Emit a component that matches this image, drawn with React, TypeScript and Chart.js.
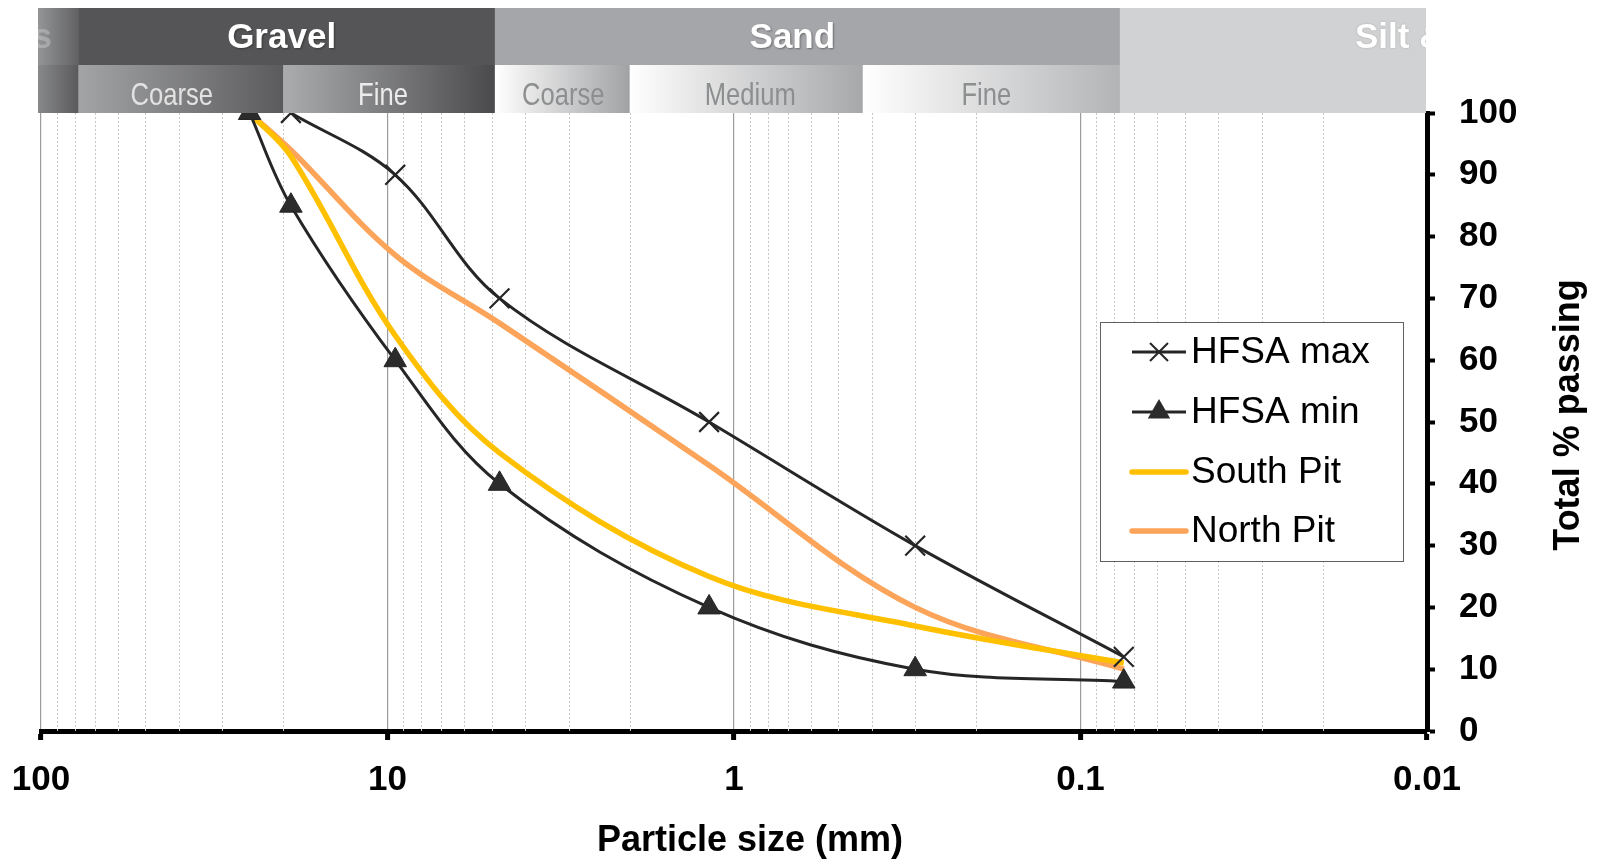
import React, { useEffect, useRef } from "react";
import { Chart, registerables } from "chart.js";

Chart.register(...registerables);

const FONT = "'Liberation Sans', Arial, Helvetica, sans-serif";

// Sieve sizes (mm) at which the gradings are plotted
const sieveSizes = [25, 19, 9.5, 4.75, 1.18, 0.3, 0.075];
const hfsaMax = [null, 100, 90, 70, 50, 30, 12];
const hfsaMin = [100, 85, 60, 40, 20, 10, 8];
const southPit = [100, 93, 64, 45, 25, 17, 11];
const northPit = [100, 94, 77, 66, 43, 20, 10];

const seriesNames = ["HFSA max", "HFSA min", "South Pit", "North Pit"];

const xTickValues = [0.01, 0.1, 1, 10, 100];
const xTickLabels = ["0.01", "0.1", "1", "10", "100"];
const yTickValues = [0, 10, 20, 30, 40, 50, 60, 70, 80, 90, 100];
const yTickLabels = ["0", "10", "20", "30", "40", "50", "60", "70", "80", "90", "100"];

// Soil classification band (boundaries in mm)
const classTopNames = ["Cobbles", "Gravel", "Sand", "Silt & clay"];
const classTopEdges = [null, 78, 4.9, 0.077, null];
const classSubNames = ["", "Coarse", "Fine", "Coarse", "Medium", "Fine", ""];
const classSubEdges = [null, 78, 20, 4.9, 2, 0.425, 0.077, null];

const xTitle = "Particle size (mm)";
const yTitle = "Total % passing";

const toPoints = (vals: (number | null)[]) =>
  sieveSizes
    .map((s, i) => ({ x: s, y: vals[i] }))
    .filter((p) => p.y !== null) as { x: number; y: number }[];

const topFills = [
  ["#949597", "#626264"],
  ["#555557", "#555557"],
  ["#a5a6a9", "#a5a6a9"],
  ["#d1d2d4", "#d1d2d4"],
];
const subFills = [
  ["#88898b", "#5a5a5c"],
  ["#a3a4a6", "#5b5b5d"],
  ["#abacae", "#4a4a4c"],
  ["#ffffff", "#a1a2a4"],
  ["#ffffff", "#a7a8aa"],
  ["#ffffff", "#b3b4b6"],
  ["#d1d2d4", "#d1d2d4"],
];
const subTextColors = ["", "#e2e2e2", "#ececec", "#8d8e90", "#8d8e90", "#8d8e90", ""];

const minorGridPlugin = {
  id: "minorGrid",
  beforeDatasetsDraw(chart: any) {
    const { ctx, chartArea, scales } = chart;
    const x = scales.x;
    ctx.save();
    ctx.strokeStyle = "#c8c8c8";
    ctx.lineWidth = 1;
    ctx.setLineDash([2, 2]);
    for (let d = 0; d < xTickValues.length - 1; d++) {
      const base = xTickValues[d];
      for (let m = 2; m <= 9; m++) {
        const px = Math.round(x.getPixelForValue(base * m)) + 0.5;
        ctx.beginPath();
        ctx.moveTo(px, chartArea.top);
        ctx.lineTo(px, chartArea.bottom);
        ctx.stroke();
      }
    }
    ctx.restore();
  },
};

const headerPlugin = {
  id: "classHeader",
  afterDatasetsDraw(chart: any) {
    const { ctx, chartArea, scales } = chart;
    const x = scales.x;
    const L = chartArea.left - 3;
    const R = chartArea.right - 1;
    const top = 8;
    const mid = 65;
    const bot = chartArea.top;
    const edge = (edges: (number | null)[], i: number) => {
      const v = edges[i];
      if (v === null) return i === 0 ? L : R;
      return x.getPixelForValue(v);
    };
    ctx.save();
    ctx.beginPath();
    ctx.rect(L, top, R - L, bot - top);
    ctx.clip();

    for (let i = 0; i < classTopNames.length; i++) {
      const a = edge(classTopEdges, i);
      const b = edge(classTopEdges, i + 1);
      const g = ctx.createLinearGradient(a, 0, b, 0);
      g.addColorStop(0, topFills[i][0]);
      g.addColorStop(1, topFills[i][1]);
      ctx.fillStyle = g;
      ctx.fillRect(a, top, b - a + 0.5, mid - top);
    }
    for (let i = 0; i < classSubNames.length; i++) {
      const a = edge(classSubEdges, i);
      const b = edge(classSubEdges, i + 1);
      const g = ctx.createLinearGradient(a, 0, b, 0);
      g.addColorStop(0, subFills[i][0]);
      g.addColorStop(1, subFills[i][1]);
      ctx.fillStyle = g;
      ctx.fillRect(a, mid, b - a + 0.5, bot - mid);
    }

    ctx.font = `bold 35px ${FONT}`;
    ctx.textBaseline = "middle";
    for (let i = 0; i < classTopNames.length; i++) {
      const a = edge(classTopEdges, i);
      const b = edge(classTopEdges, i + 1);
      ctx.save();
      if (i === 0) {
        ctx.textAlign = "right";
        ctx.fillStyle = "rgba(255,255,255,0.25)";
        ctx.fillText(classTopNames[i], a + 14, 38);
      } else if (i === classTopNames.length - 1) {
        ctx.textAlign = "left";
        ctx.fillStyle = "#ffffff";
        ctx.shadowColor = "rgba(0,0,0,0.2)";
        ctx.shadowBlur = 2;
        ctx.fillText(classTopNames[i], R - 71, 38);
      } else {
        ctx.textAlign = "center";
        ctx.fillStyle = "#ffffff";
        ctx.shadowColor = "rgba(0,0,0,0.35)";
        ctx.shadowBlur = 2;
        ctx.shadowOffsetX = 1;
        ctx.shadowOffsetY = 1;
        const dx = i === 1 ? -5 : -15;
        ctx.fillText(classTopNames[i], (a + b) / 2 + dx, 38);
      }
      ctx.restore();
    }

    const subDx = [0, -9, -6, 1, 4, -5, 0];
    for (let i = 0; i < classSubNames.length; i++) {
      if (!classSubNames[i]) continue;
      const a = edge(classSubEdges, i);
      const b = edge(classSubEdges, i + 1);
      ctx.save();
      ctx.translate((a + b) / 2 + subDx[i], 96);
      ctx.scale(0.8, 1);
      ctx.font = `32px ${FONT}`;
      ctx.textAlign = "center";
      ctx.textBaseline = "middle";
      ctx.fillStyle = subTextColors[i];
      ctx.fillText(classSubNames[i], 0, 0);
      ctx.restore();
    }
    ctx.restore();
  },
};

const legendPlugin = {
  id: "insideLegend",
  afterDraw(chart: any) {
    const { ctx } = chart;
    const bx = 1100, by = 322, bw = 303, bh = 239;
    ctx.save();
    ctx.fillStyle = "#ffffff";
    ctx.fillRect(bx, by, bw, bh);
    ctx.strokeStyle = "#606060";
    ctx.lineWidth = 1;
    ctx.strokeRect(bx + 0.5, by + 0.5, bw, bh);
    const rows = [352, 412, 472, 531];
    chart.data.datasets.forEach((ds: any, i: number) => {
      const cy = rows[i];
      const x1 = 1132, x2 = 1186, cx = (x1 + x2) / 2;
      ctx.strokeStyle = ds.borderColor;
      ctx.lineWidth = ds.borderWidth;
      ctx.lineCap = i >= 2 ? "round" : "butt";
      ctx.beginPath();
      ctx.moveTo(x1, cy);
      ctx.lineTo(x2, cy);
      ctx.stroke();
      ctx.lineCap = "butt";
      if (ds.pointStyle === "crossRot") {
        const r = 9;
        ctx.lineWidth = 2;
        ctx.beginPath();
        ctx.moveTo(cx - r, cy - r);
        ctx.lineTo(cx + r, cy + r);
        ctx.moveTo(cx - r, cy + r);
        ctx.lineTo(cx + r, cy - r);
        ctx.stroke();
      } else if (ds.pointStyle === "triangle") {
        const r = 13;
        ctx.fillStyle = ds.pointBackgroundColor;
        ctx.beginPath();
        ctx.moveTo(cx, cy - r);
        ctx.lineTo(cx + r * 0.866, cy + r / 2);
        ctx.lineTo(cx - r * 0.866, cy + r / 2);
        ctx.closePath();
        ctx.fill();
      }
      ctx.fillStyle = "#000000";
      ctx.font = `37px ${FONT}`;
      ctx.textAlign = "left";
      ctx.textBaseline = "middle";
      ctx.fillText(ds.label, 1191, cy + 1);
    });
    ctx.restore();
  },
};

const titlesPlugin = {
  id: "axisTitles",
  afterDraw(chart: any) {
    const { ctx } = chart;
    ctx.save();
    ctx.fillStyle = "#000000";
    ctx.font = `bold 36px ${FONT}`;
    ctx.textAlign = "center";
    ctx.textBaseline = "middle";
    ctx.fillText(xTitle, 750, 841);
    ctx.translate(1569, 415);
    ctx.rotate(-Math.PI / 2);
    ctx.fillText(yTitle, 0, 0);
    ctx.restore();
  },
};

export default function App() {
  const ref = useRef<HTMLCanvasElement | null>(null);

  useEffect(() => {
    if (!ref.current) return;
    const black = "#262626";
    const chart = new Chart(ref.current, {
      type: "line",
      data: {
        datasets: [
          {
            label: seriesNames[0],
            data: toPoints(hfsaMax),
            borderColor: black,
            borderWidth: 3,
            pointStyle: "crossRot",
            pointRadius: 14,
            pointBorderWidth: 2.2,
            pointBorderColor: black,
            pointBackgroundColor: black,
            tension: 0.35,
            fill: false,
          },
          {
            label: seriesNames[1],
            data: toPoints(hfsaMin),
            borderColor: black,
            borderWidth: 3,
            pointStyle: "triangle",
            pointRadius: 13,
            pointBorderWidth: 1,
            pointBorderColor: black,
            pointBackgroundColor: "#2b2b2b",
            tension: 0.35,
            fill: false,
          },
          {
            label: seriesNames[2],
            data: toPoints(southPit),
            borderColor: "#FFC000",
            borderWidth: 5.5,
            pointRadius: 0,
            tension: 0.35,
            fill: false,
          },
          {
            label: seriesNames[3],
            data: toPoints(northPit),
            borderColor: "#FBA45A",
            borderWidth: 5.5,
            pointRadius: 0,
            tension: 0.35,
            fill: false,
          },
        ],
      } as any,
      options: {
        responsive: false,
        animation: false,
        events: [],
        layout: { padding: { left: 41, top: 113, right: 53, bottom: 72 } },
        plugins: {
          legend: { display: false },
          tooltip: { enabled: false },
          title: { display: false },
        },
        scales: {
          x: {
            type: "logarithmic",
            position: "bottom",
            reverse: true,
            min: 0.01,
            max: 100,
            afterBuildTicks: (s: any) => {
              s.ticks = xTickValues.map((v) => ({ value: v }));
            },
            afterFit: (s: any) => {
              s.height = 60;
              s.paddingLeft = 0;
              s.paddingRight = 0;
            },
            ticks: {
              autoSkip: false,
              maxRotation: 0,
              padding: 19,
              color: "#000000",
              font: { family: FONT, size: 35, weight: "bold" },
              callback: (v: any) => {
                const i = xTickValues.indexOf(Number(v));
                return i >= 0 ? xTickLabels[i] : "";
              },
            },
            grid: {
              color: "#9c9c9c",
              lineWidth: 1.2,
              drawOnChartArea: true,
              tickLength: 9,
              tickWidth: 5,
              tickColor: "#000000",
            },
            border: { color: "#000000", width: 5 },
          },
          y: {
            type: "linear",
            position: "right",
            min: 0,
            max: 100,
            afterBuildTicks: (s: any) => {
              s.ticks = yTickValues.map((v) => ({ value: v }));
            },
            afterFit: (s: any) => {
              s.width = 120;
            },
            ticks: {
              padding: 24,
              color: "#000000",
              font: { family: FONT, size: 35, weight: "bold" },
              callback: (v: any) => {
                const i = yTickValues.indexOf(Number(v));
                return i >= 0 ? yTickLabels[i] : "";
              },
            },
            grid: {
              drawOnChartArea: false,
              tickLength: 8,
              tickWidth: 4,
              tickColor: "#000000",
            },
            border: { color: "#000000", width: 5 },
          },
        },
      } as any,
      plugins: [minorGridPlugin, headerPlugin, legendPlugin, titlesPlugin],
    });
    return () => chart.destroy();
  }, []);

  return (
    <div
      style={{
        position: "absolute",
        left: 0,
        top: 0,
        width: 1600,
        height: 863,
        background: "#ffffff",
      }}
    >
      <canvas ref={ref} width={1600} height={863} style={{ display: "block" }} />
    </div>
  );
}
